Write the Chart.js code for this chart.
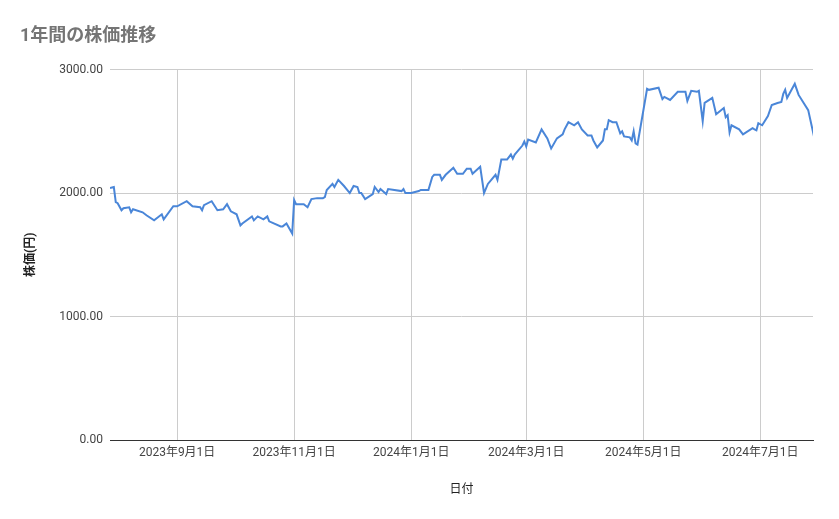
<!DOCTYPE html>
<html><head><meta charset="utf-8">
<script src="https://cdn.jsdelivr.net/npm/chart.js@4"></script>
<style>html,body{margin:0;padding:0;background:#fff}#w{width:839px;height:519px}</style>
</head><body><div id="w"><canvas id="c"></canvas></div>
<script>
const baseDate = [2023, 6, 28]; // 2023-07-28 = day 0
const dayOffsets = [0,2,3,4,6,7,10,11,12,17,19,23,27,28,33,35,40,43,47,48,49,53,56,59,61,63,66,68,69,74,75,77,80,82,83,89,90,92,95,96,97,101,103,105,108,111,112,113,116,117,119,122,125,127,129,130,131,133,137,138,140,141,144,145,152,153,154,157,161,162,166,168,169,172,173,175,179,181,184,186,188,189,193,195,197,201,202,204,207,209,210,211,215,216,217,218,222,225,228,230,233,236,237,239,242,244,246,249,251,252,254,257,258,259,260,262,264,266,267,268,271,272,273,274,275,280,281,286,288,289,292,296,300,301,303,306,307,309,310,314,316,320,321,322,323,324,328,330,335,336,337,338,340,343,345,348,350,351,352,353,357,359,364,367];
const prices = [2041,2049,1926,1918,1861,1877,1885,1844,1869,1844,1820,1779,1828,1787,1893,1893,1934,1893,1885,1861,1902,1934,1861,1869,1910,1852,1828,1738,1754,1811,1779,1811,1787,1811,1771,1730,1730,1754,1672,1943,1910,1910,1885,1951,1959,1959,1967,2025,2074,2049,2107,2057,2000,2057,2049,2000,2000,1951,1992,2049,2008,2033,1992,2033,2016,2033,2000,2000,2016,2025,2025,2131,2148,2148,2107,2148,2205,2156,2156,2197,2197,2156,2213,2000,2074,2148,2107,2271,2271,2312,2279,2312,2385,2418,2377,2434,2410,2516,2443,2361,2443,2475,2516,2574,2549,2574,2516,2467,2467,2426,2369,2426,2516,2516,2590,2574,2574,2484,2500,2459,2451,2426,2500,2402,2393,2844,2836,2853,2762,2779,2754,2820,2820,2746,2828,2820,2828,2582,2730,2771,2639,2689,2615,2631,2492,2549,2516,2475,2525,2516,2508,2566,2549,2623,2713,2730,2738,2803,2836,2771,2885,2795,2672,2459];
const tickDates = [[2023,9,1],[2023,11,1],[2024,1,1],[2024,3,1],[2024,5,1],[2024,7,1]];
const yTicks = [0,1000,2000,3000];

const base = Date.UTC(baseDate[0], baseDate[1], baseDate[2]);
const dayOf = (y,m,d) => (Date.UTC(y,m-1,d)-base)/86400000;
const tickMap = {};
tickDates.forEach(t => { tickMap[dayOf(...t)] = t[0]+'年'+t[1]+'月'+t[2]+'日'; });
const pts = dayOffsets.map((d,i)=>({x:d,y:prices[i]}));
const F = 'Roboto, "Noto Sans CJK JP", sans-serif';

new Chart(document.getElementById('c'), {
  type:'line',
  data:{datasets:[{data:pts,borderColor:'#4a86d8',borderWidth:2,pointRadius:0,tension:0,fill:false}]},
  options:{
    responsive:true,maintainAspectRatio:false,animation:false,
    layout:{padding:{left:20,right:26,top:0,bottom:18}},
    plugins:{legend:{display:false},tooltip:{enabled:false},
      title:{display:true,text:'1年間の株価推移',align:'start',color:'#757575',
        font:{family:F,size:18,weight:'bold'},padding:{top:26,bottom:22}}},
    scales:{
      x:{type:'linear',min:0,max:366.5,
        afterBuildTicks:s=>{s.ticks=Object.keys(tickMap).map(v=>({value:+v}));},
        afterFit:s=>{s.height=61;},
        ticks:{autoSkip:false,maxRotation:0,color:'#444',font:{family:F,size:12},padding:6,callback:v=>tickMap[v]||''},
        grid:{color:'#cccccc',drawTicks:false},border:{color:'#333'},
        title:{display:true,text:'日付',color:'#222',font:{family:F,size:12},padding:{top:14}}},
      y:{min:0,max:3000,
        afterBuildTicks:s=>{s.ticks=yTicks.map(v=>({value:v}));},
        afterFit:s=>{s.width=90;},
        ticks:{color:'#444',font:{family:F,size:12},padding:7,callback:v=>v.toFixed(2)},
        grid:{color:'#cccccc',drawTicks:false},border:{display:false},
        title:{display:true,text:'株価(円)',color:'#222',font:{family:F,size:12,weight:'bold'}}}
    }
  }
});
</script></body></html>
